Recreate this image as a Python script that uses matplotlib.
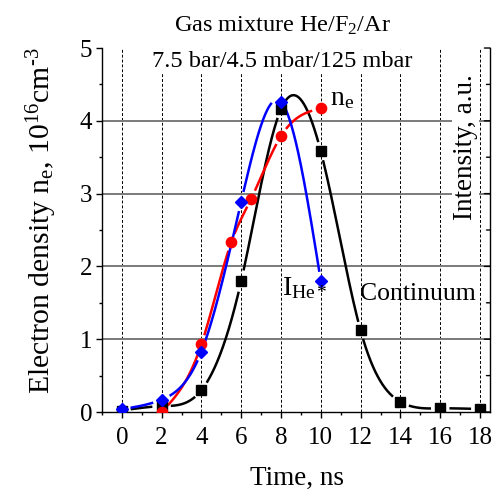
import numpy as np
import matplotlib
matplotlib.use("Agg")
import matplotlib.pyplot as plt
from matplotlib.ticker import MultipleLocator

plt.rcParams["font.family"] = ["Liberation Serif", "DejaVu Serif"]
plt.rcParams["mathtext.fontset"] = "custom"
plt.rcParams["mathtext.rm"] = "Liberation Serif"
plt.rcParams["mathtext.it"] = "Liberation Serif:italic"

# continuum emission (a.u.)
t_cont = [0, 2, 4, 6, 8, 10, 12, 14, 16, 18]
i_cont = [0.02, 0.08, 0.30, 1.80, 4.16, 3.58, 1.12, 0.14, 0.05, 0.04]

# electron density, 1e16 cm^-3
t_ne = [2, 4, 5.5, 6.5, 8, 10]
n_e = [0.0, 0.93, 2.33, 2.93, 3.79, 4.17]

# He* line intensity (a.u.)
t_he = [0, 2, 4, 6, 8, 10]
i_he = [0.04, 0.17, 0.83, 2.89, 4.26, 1.80]


def natural_spline(x, y, n=600):
    x = np.asarray(x, float)
    y = np.asarray(y, float)
    h = np.diff(x)
    m = len(x)
    A = np.zeros((m, m))
    b = np.zeros(m)
    A[0, 0] = A[-1, -1] = 1.0
    for i in range(1, m - 1):
        A[i, i - 1] = h[i - 1]
        A[i, i] = 2 * (h[i - 1] + h[i])
        A[i, i + 1] = h[i]
        b[i] = 6 * ((y[i + 1] - y[i]) / h[i] - (y[i] - y[i - 1]) / h[i - 1])
    M = np.linalg.solve(A, b)
    xs = np.linspace(x[0], x[-1], n)
    k = np.clip(np.searchsorted(x, xs) - 1, 0, m - 2)
    dx1 = x[k + 1] - xs
    dx0 = xs - x[k]
    hk = h[k]
    ys = (M[k] * dx1 ** 3 / (6 * hk) + M[k + 1] * dx0 ** 3 / (6 * hk)
          + (y[k] / hk - M[k] * hk / 6) * dx1
          + (y[k + 1] / hk - M[k + 1] * hk / 6) * dx0)
    return xs, ys


W, H = 502, 492
fig = plt.figure(figsize=(W / 100, H / 100), dpi=100)
ax = fig.add_axes([0.203, 0.1626, 0.773, 0.7398])
ax.set_xlim(-1, 18.5)
ax.set_ylim(0, 5)


def curve_with_gaps(x, y, color, marker, ms, gap=10):
    # spline through the points, broken off around each symbol
    xs, ys = natural_spline(x, y)
    pix = ax.transData.transform(np.column_stack([xs, ys]))
    pts = ax.transData.transform(np.column_stack([x, y]))
    d = np.min(np.hypot(pix[:, None, 0] - pts[None, :, 0],
                        pix[:, None, 1] - pts[None, :, 1]), axis=1)
    ys = np.where(d < gap, np.nan, ys)
    ax.plot(xs, ys, color=color, lw=1.8, zorder=3)
    ax.plot(x, y, ls="none", marker=marker, ms=ms, color=color, zorder=4)


for xv in range(0, 19, 2):
    ax.axvline(xv, color="black", lw=0.7, ls=(0, (3, 2)), zorder=1)
for yv in range(1, 5):
    ax.axhline(yv, color="#7a7a7a", lw=1.4, zorder=1)

curve_with_gaps(t_cont, i_cont, "black", "s", 6.7)
curve_with_gaps(t_ne, n_e, "red", "o", 7.4)
curve_with_gaps(t_he, i_he, "blue", "D", 6.4)

ax.spines["top"].set_visible(False)
for side in ("left", "right", "bottom"):
    ax.spines[side].set_linewidth(1.0)

ax.xaxis.set_major_locator(MultipleLocator(2))
ax.xaxis.set_minor_locator(MultipleLocator(1))
ax.yaxis.set_major_locator(MultipleLocator(1))
ax.yaxis.set_minor_locator(MultipleLocator(0.5))
ax.tick_params(axis="both", which="major", labelsize=18, length=4, width=1)
ax.tick_params(axis="both", which="minor", length=2.5, width=1)
ax.tick_params(axis="x", which="both", top=False, direction="out", pad=7)
ax.tick_params(axis="y", which="both", left=True, right=False,
               direction="out", pad=3)

# inward ticks on the right spine
for yv in np.arange(0, 5.01, 0.5):
    ln = 4 if yv == int(yv) else 2.5
    ax.annotate("", xy=(1, yv), xycoords=("axes fraction", "data"),
                xytext=(-ln, 0), textcoords="offset points",
                arrowprops=dict(arrowstyle="-", lw=1, color="black",
                                shrinkA=0, shrinkB=0))

fig.text(250 / W, 1 - 485 / H, "Time, ns", fontsize=19.5,
         ha="left", va="baseline")
fig.text(50 / W, 1 - 394 / H,
         r"Electron density n$_\mathrm{e}$, 10$^{16}$cm$^{\text{-}3}$",
         fontsize=21.3, rotation=90, rotation_mode="anchor",
         ha="left", va="baseline")

fig.text(282 / W, 1 - 32 / H, r"Gas mixture He/F$_2$/Ar", fontsize=17.5,
         ha="center", va="baseline")
fig.text(282 / W, 1 - 67 / H, "7.5 bar/4.5 mbar/125 mbar", fontsize=17.5,
         ha="center", va="baseline", zorder=2,
         bbox=dict(facecolor="white", edgecolor="none", pad=1))
fig.text(472 / W, 1 - 220 / H, "Intensity, a.u.", fontsize=19.5,
         rotation=90, rotation_mode="anchor", ha="left", va="baseline",
         zorder=2, bbox=dict(facecolor="white", edgecolor="none", pad=1))

ax.text(10.45, 4.22, r"n$_\mathrm{e}$", fontsize=20, ha="left",
        va="baseline", zorder=5)
ax.text(8.03, 1.61, r"I$_\mathrm{He*}$", fontsize=20, ha="left",
        va="baseline", zorder=5)
ax.text(11.96, 1.54, "Continuum", fontsize=18.5, ha="left",
        va="baseline", zorder=5)

fig.savefig("out.png", dpi=100)
